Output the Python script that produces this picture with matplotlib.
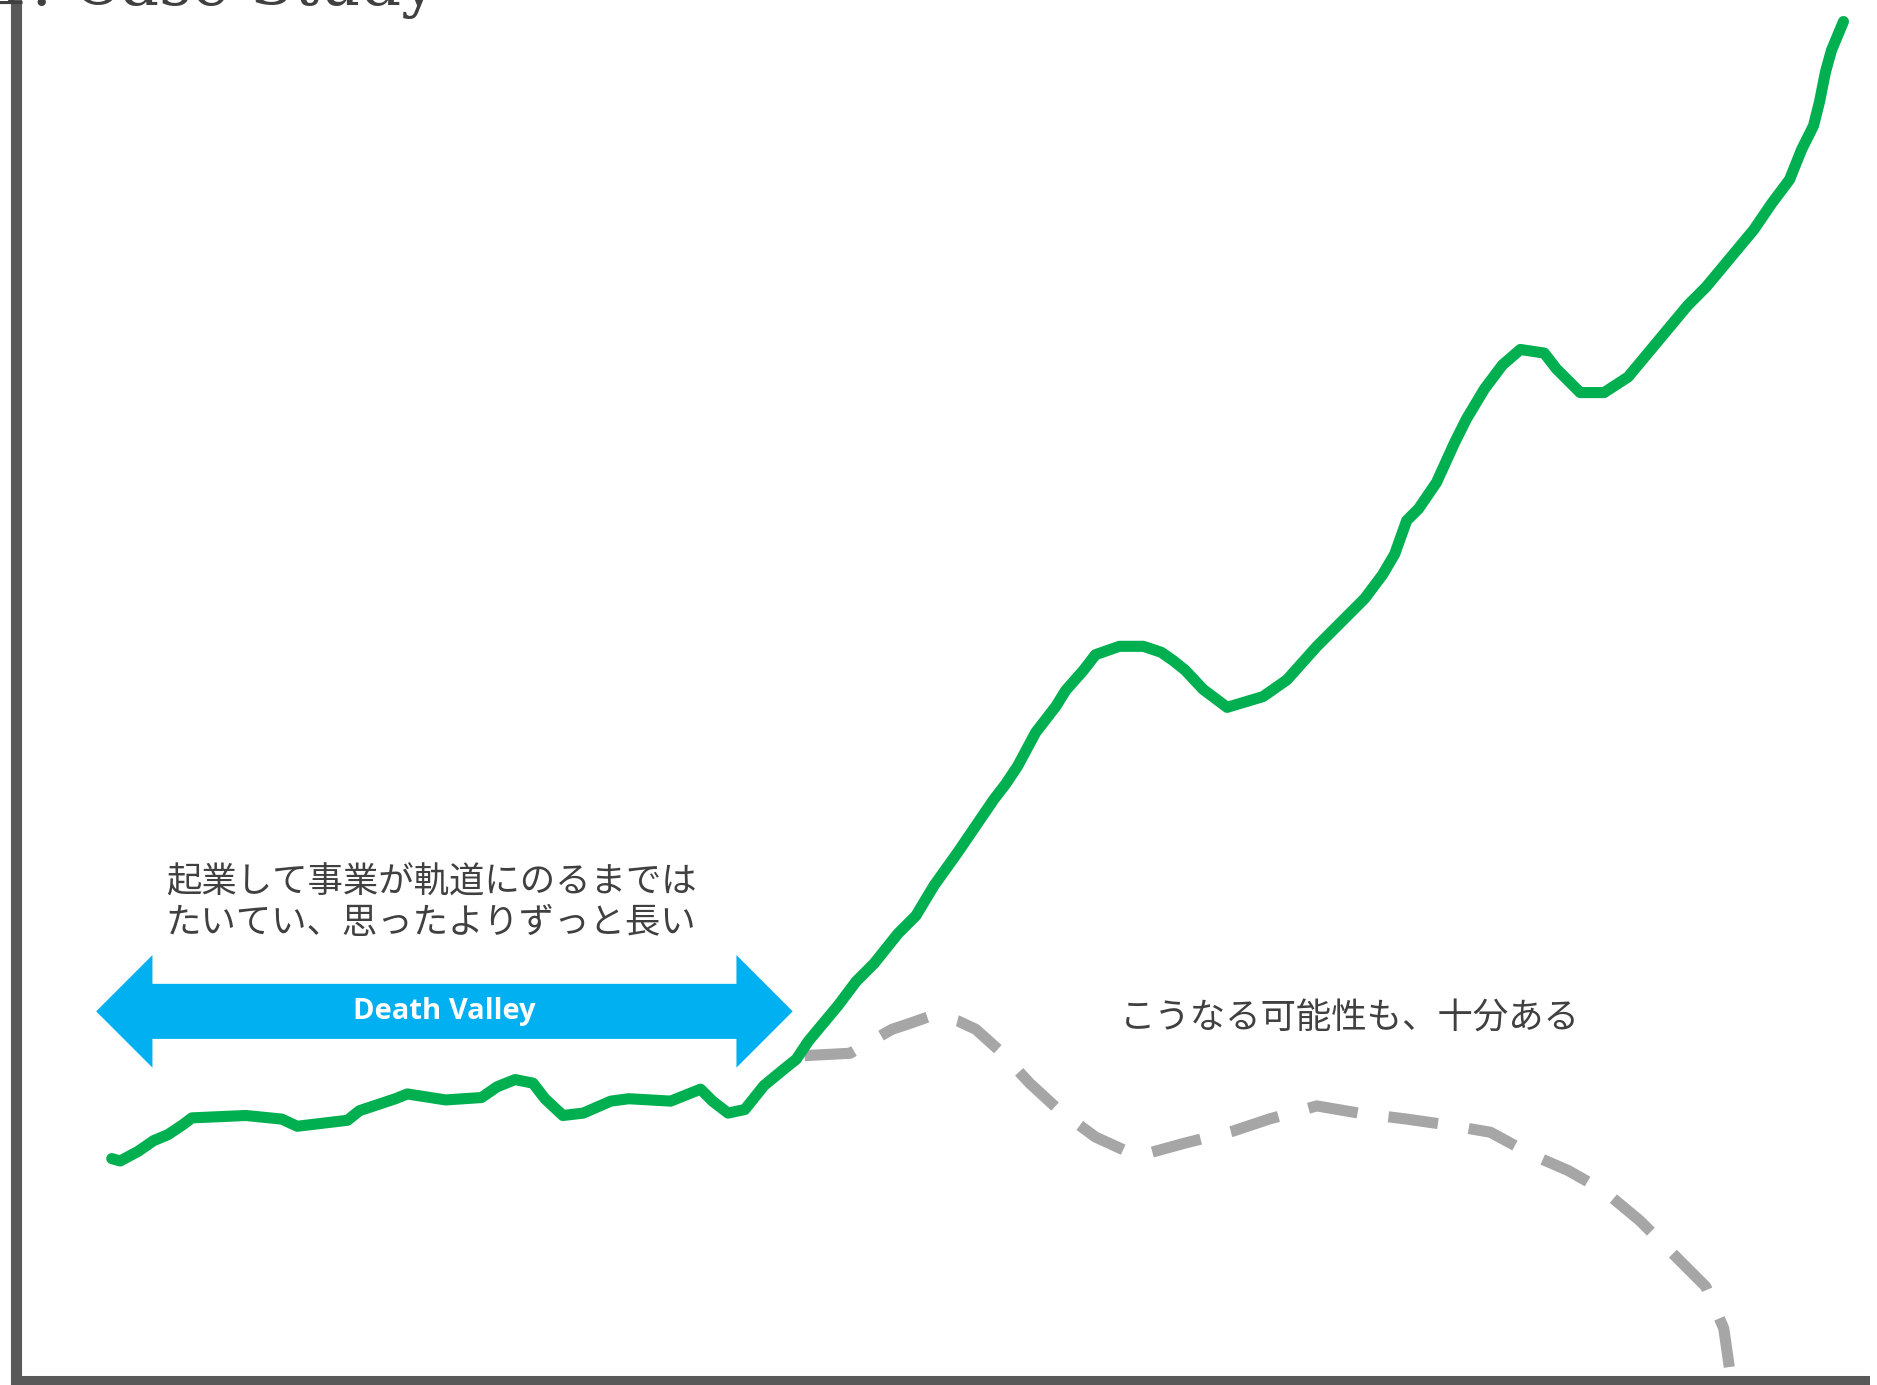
import matplotlib
matplotlib.use("Agg")
import matplotlib.pyplot as plt
from matplotlib.patches import Polygon

plt.rcParams['font.family'] = ['Noto Sans CJK JP', 'DejaVu Sans']

# growth path (time, value)
green_x = [80, 87, 102, 115, 127, 139, 147, 192, 222, 235, 277, 287, 317, 327, 359, 389,
           402, 417, 432, 442, 457, 474, 497, 512, 547, 572, 582, 595, 609, 625, 642, 652,
           662, 687, 702, 717, 737, 752, 767, 787, 802, 817, 827, 837, 852, 869, 877, 892,
           902, 922, 942, 957, 967, 977, 992, 1012, 1042, 1062, 1087, 1097, 1112, 1127,
           1142, 1152, 1162, 1172, 1187, 1202, 1212, 1227, 1242, 1257, 1277, 1287, 1307,
           1327, 1347, 1372, 1397, 1412, 1427, 1452, 1467, 1482, 1492, 1502, 1507, 1512,
           1517, 1522, 1527]
green_y = [185, 183, 191, 200, 205, 213, 219, 221, 218, 212, 217, 225, 235, 239, 234, 236,
           245, 251, 248, 235, 221, 223, 233, 235, 233, 243, 233, 223, 226, 246, 260, 268,
           283, 313, 333, 348, 373, 388, 413, 441, 463, 485, 498, 513, 541, 563, 576, 593,
           606, 613, 613, 608, 601, 593, 577, 562, 571, 585, 613, 623, 638, 653,
           673, 690, 718, 728, 750, 783, 803, 828, 848, 861, 858, 845, 825,
           825, 838, 868, 898, 913, 931, 961, 983, 1003, 1028, 1048, 1068, 1093,
           1111, 1123, 1135]

# failure path
grey_x = [659, 697, 732, 747, 767, 787, 802, 822, 847, 872, 902, 937, 977, 1017, 1047,
          1087, 1122, 1162, 1197, 1232, 1267, 1297, 1327, 1357, 1387, 1412, 1427, 1432]
grey_y = [271, 273, 293, 298, 305, 300, 293, 275, 248, 225, 203, 187, 198, 208, 218,
          229, 223, 218, 213, 207, 188, 175, 158, 133, 103, 78, 43, 8]

fig = plt.figure(figsize=(18.77, 13.85), dpi=100)
ax = fig.add_axes([16 / 1877, 5 / 1385, 1849 / 1877, 1380 / 1385])
ax.set_xlim(0, 1545)
ax.set_ylim(0, 1153)
ax.set_xticks([])
ax.set_yticks([])
for s in ['top', 'right']:
    ax.spines[s].set_visible(False)
ax.spines['left'].set_linewidth(8)
ax.spines['bottom'].set_linewidth(6.5)
ax.spines['left'].set_color('#595959')
ax.spines['bottom'].set_color('#595959')
ax.patch.set_alpha(0)

ax.plot(grey_x, grey_y, color='#A6A6A6', lw=8, linestyle=(0, (4.5, 2.8)),
        dash_capstyle='butt', zorder=2)
ax.plot(green_x, green_y, color='#00B050', lw=8, solid_capstyle='round',
        solid_joinstyle='round', zorder=3)

# Death Valley double arrow
lx, rx, cy = 67, 649, 308
head, hh, sh = 47, 47, 23
pts = [(lx, cy), (lx + head, cy + hh), (lx + head, cy + sh), (rx - head, cy + sh),
       (rx - head, cy + hh), (rx, cy), (rx - head, cy - hh), (rx - head, cy - sh),
       (lx + head, cy - sh), (lx + head, cy - hh)]
ax.add_patch(Polygon(pts, closed=True, facecolor='#00B0F0', edgecolor='none', zorder=4))
ax.text((lx + rx) / 2, cy, 'Death Valley', color='white', fontsize=21, fontweight='bold',
        family=['Open Sans', 'DejaVu Sans'], ha='center', va='center', zorder=5)

ax.text(125, 399, '起業して事業が軌道にのるまでは\nたいてい、思ったよりずっと長い',
        fontsize=25.5, color='#404040', ha='left', va='center', linespacing=1.15)
ax.text(922, 303, 'こうなる可能性も、十分ある', fontsize=25.5, color='#404040',
        ha='left', va='center')

# title cut off at the top edge
fig.text(-0.005, 1 - 5 / 1385, '1. Case Study', fontsize=46, color='#404040',
         family=['DejaVu Serif'], ha='left', va='baseline')

fig.savefig('out.png', dpi=100)
